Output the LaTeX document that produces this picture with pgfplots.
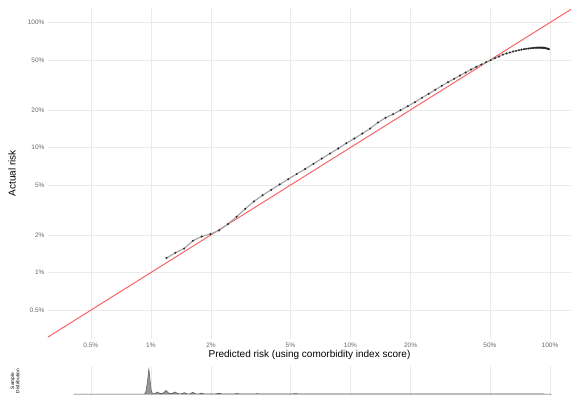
\documentclass[border=0pt]{standalone}
\usepackage{fontspec}
\setmainfont{Liberation Sans}
\usepackage{pgfplots}
\pgfplotsset{compat=1.18}
\definecolor{gridc}{RGB}{235,235,235}
\definecolor{tickc}{RGB}{105,105,105}
\definecolor{refred}{RGB}{250,100,100}
\definecolor{curvec}{RGB}{165,165,165}
\definecolor{densfill}{RGB}{150,150,150}
\definecolor{densline}{RGB}{90,90,90}
\begin{document}
\begin{tikzpicture}[x=1pt,y=1pt]
\path[use as bounding box] (0,0) rectangle (571,400);
\begin{axis}[
  at={(48pt,61pt)}, anchor=south west, scale only axis,
  width=523pt, height=331.5pt,
  xmode=log, ymode=log,
  xmin=0.305, xmax=127.4, ymin=0.294, ymax=131.8,
  axis line style={draw=none}, tick style={draw=none},
  xtick={0.5,1,2,5,10,20,50,100},
  xticklabels={0.5\%,1\%,2\%,5\%,10\%,20\%,50\%,100\%},
  ytick={0.5,1,2,5,10,20,50,100},
  yticklabels={0.5\%,1\%,2\%,5\%,10\%,20\%,50\%,100\%},
  minor tick num=0,
  grid=major, major grid style={gridc, line width=0.6pt},
  ticklabel style={font=\fontsize{6.5}{7}\selectfont, text=tickc},
  xlabel={Predicted risk (using comorbidity index score)},
  ylabel={Actual risk},
  label style={font=\fontsize{7.6}{9}\selectfont},
  every axis x label/.style={at={(axis description cs:0.5,0)}, anchor=center, yshift=-16pt},
  every axis y label/.style={at={(axis description cs:0,0.5)}, anchor=center, rotate=90, yshift=36pt},
]
\addplot[refred, line width=1pt] coordinates {(0.2,0.2) (200,200)};
\addplot[curvec, line width=1.2pt, mark=*, mark size=0.9pt,
  mark options={draw=black!85, fill=black!85, line width=0.2pt}] coordinates {
(1.197,1.306) (1.326,1.438) (1.467,1.556) (1.624,1.796) (1.797,1.941)
(1.988,2.032) (2.199,2.176) (2.431,2.443) (2.688,2.795) (2.971,3.233)
(3.283,3.706) (3.627,4.153) (4.005,4.587) (4.419,5.069) (4.875,5.578)
(5.376,6.138) (5.925,6.730) (6.526,7.406) (7.184,8.166) (7.901,8.954)
(8.683,9.817) (9.535,10.82) (10.46,11.80) (11.47,12.94) (12.55,14.19)
(13.73,15.85) (14.99,17.29) (16.36,18.47) (17.81,19.88) (19.37,21.40)
(21.03,23.04) (22.79,24.98) (24.66,26.89) (26.62,28.94) (28.68,31.16)
(30.83,33.30) (33.07,35.44) (35.39,37.67) (37.78,39.81) (40.23,42.07)
(42.73,44.22) (45.27,46.13) (47.83,48.13) (50.40,49.94) (52.97,51.82)
(55.53,53.46) (58.06,55.37) (60.54,56.60) (62.97,57.54) (65.34,58.61)
(67.63,59.37) (69.85,60.03) (71.97,60.70) (74.00,61.15) (75.94,61.60)
(77.76,61.94) (79.50,62.17) (81.12,62.40) (82.65,62.63) (84.08,62.81)
(85.41,62.86) (86.65,62.90) (87.80,62.95) (88.86,62.95) (89.84,62.95)
(90.74,62.90) (91.57,62.86) (92.33,62.80) (93.03,62.70) (93.67,62.60)
(94.25,62.55) (95.24,62.30) (96.48,62.00) (97.39,61.70) (98.07,61.50)
(98.72,61.30)
};
\end{axis}
\begin{axis}[
  at={(48pt,4pt)}, anchor=south west, scale only axis,
  width=523pt, height=30pt,
  xmode=log, xmin=0.305, xmax=127.4, ymin=-2, ymax=28,
  axis line style={draw=none}, tick style={draw=none},
  xtick={0.5,1,2,5,10,20,50,100}, xticklabels={},
  ytick=\empty, minor tick num=0,
  xmajorgrids, major grid style={gridc, line width=0.6pt},
  ylabel={Sample\\Distribution},
  every axis y label/.style={at={(axis description cs:0,0.5)}, anchor=center, rotate=90, yshift=33pt,
    align=center, font=\fontsize{4.8}{5.4}\selectfont},
]
\addplot[fill=densfill, draw=densline, line width=0.5pt] coordinates {
(0.41,0) (0.93,0) (0.945,3) (0.96,12) (0.977,25) (0.993,12) (1.005,3) (1.02,0.3)
(1.05,0.5) (1.08,2) (1.11,0.5) (1.15,0.8) (1.19,3.5) (1.23,0.8) (1.27,0.3)
(1.32,2) (1.37,0.3) (1.42,0.2) (1.47,1.3) (1.52,0.2) (1.57,0.2) (1.62,1.6)
(1.68,0.2) (1.74,0.1) (1.79,0.9) (1.85,0.1) (2.1,0.1) (2.19,0.8) (2.28,0.1)
(2.6,0.1) (2.7,0.5) (2.8,0.1) (3.3,0.05) (3.4,0.4) (3.5,0.05) (5,0.05) (5.3,0.4) (5.6,0.05)
(20,0.02) (102,0)
} -- cycle;
\end{axis}
\end{tikzpicture}
\end{document}
